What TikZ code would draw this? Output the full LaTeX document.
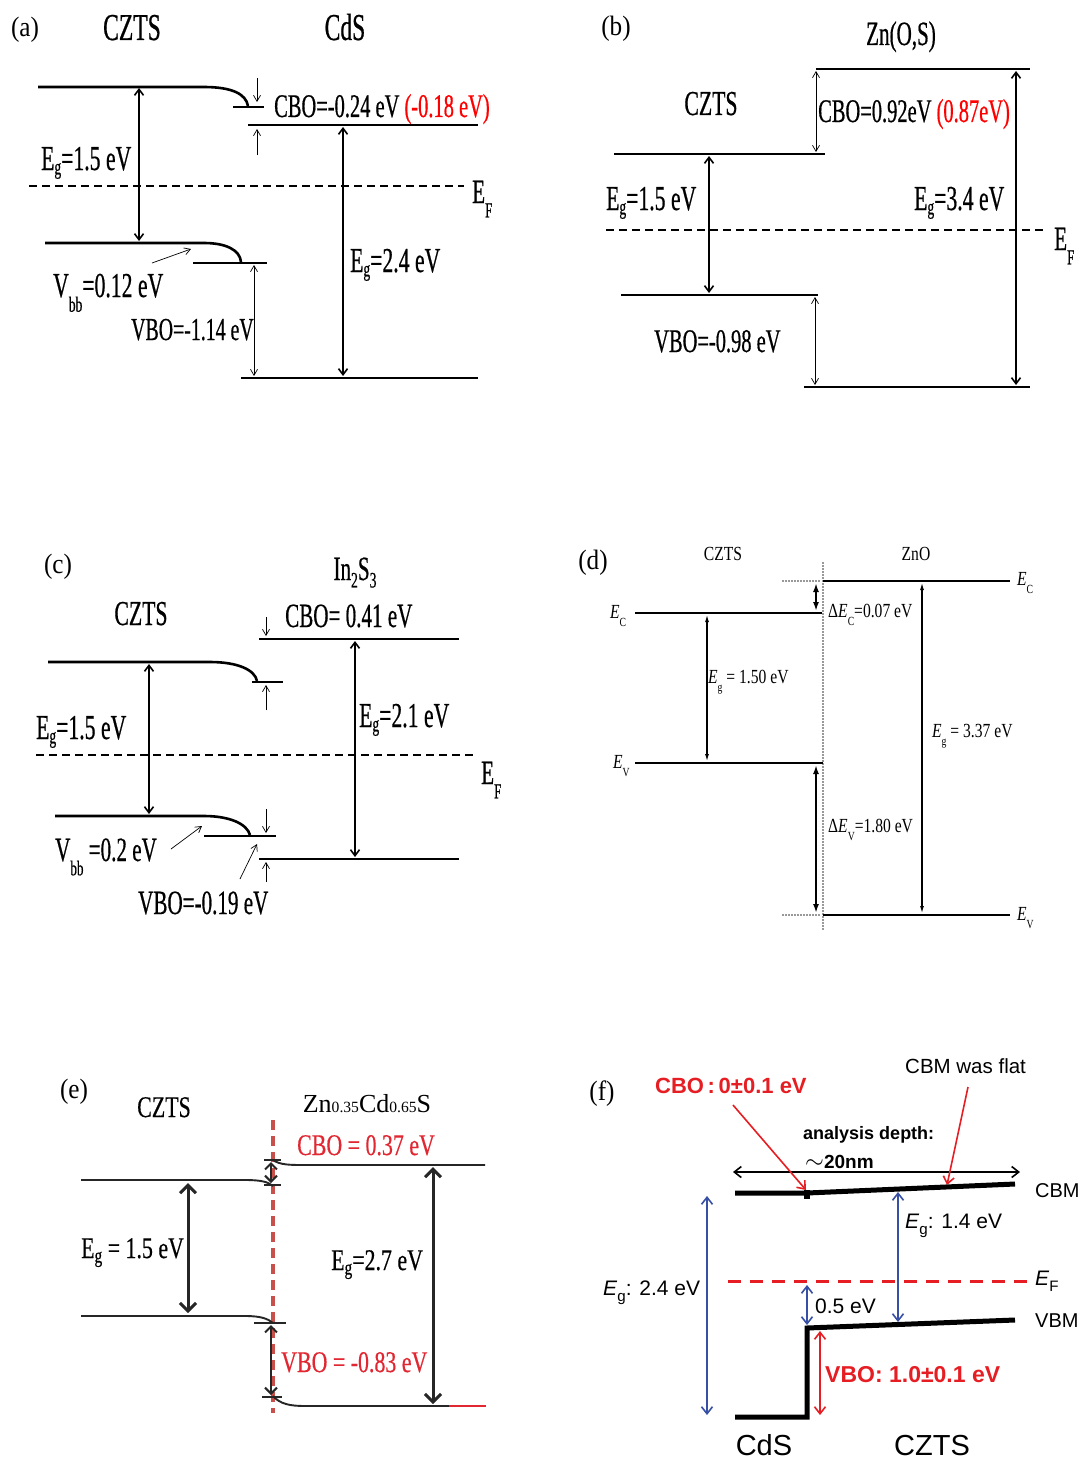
\documentclass[tikz,border=0pt]{standalone}
\usepackage{fontspec}
\usepackage{graphicx}
\usetikzlibrary{arrows.meta}
\setmainfont{Liberation Serif}
\setsansfont{Liberation Sans}
\newfontfamily\czA[FakeStretch=0.62,FakeBold=0.5]{Liberation Serif}
\newfontfamily\czD[FakeStretch=0.78]{Liberation Serif}
\newfontfamily\czE[FakeStretch=0.73,FakeBold=0.4]{Liberation Serif}
\newfontfamily\panfont[FakeStretch=0.9]{Liberation Serif}
\newcommand\fsz[1]{\fontsize{#1}{#1}\selectfont}
\newcommand\lowsub[1]{\raisebox{-0.42em}{\scalebox{0.62}{#1}}}
\newcommand\gsub[1]{\raisebox{-0.12em}{\scalebox{0.62}{#1}}}
\newcommand\midsub[1]{\raisebox{-0.22em}{\scalebox{0.65}{#1}}}
\newcommand\esub[1]{\raisebox{-0.15em}{\scalebox{0.7}{#1}}}
\newcommand\fsub[1]{\textit{E}\raisebox{-0.3em}{\scalebox{0.72}{#1}}}
\definecolor{eRed}{RGB}{225,40,50}
\definecolor{eDash}{RGB}{200,80,75}
\definecolor{fRed}{RGB}{230,30,35}
\definecolor{fBlue}{RGB}{55,80,165}
\tikzset{
  band/.style={line width=2.6pt},
  efl/.style={line width=2.4pt, dash pattern=on 8pt off 5pt},
  egA/.style={line width=1.6pt, {Straight Barb[length=6pt,width=9pt]}-{Straight Barb[length=6pt,width=9pt]}},
  thinA/.style={line width=0.7pt, {Straight Barb[length=6pt,width=7pt]}-{Straight Barb[length=6pt,width=7pt]}},
  oneA/.style={line width=0.7pt, -{Straight Barb[length=6pt,width=7pt]}},
  bandD/.style={line width=2pt},
  egD/.style={line width=1.1pt, {Latex[length=7pt,width=4pt]}-{Latex[length=7pt,width=4pt]}},
  dD/.style={line width=2pt, {Latex[length=9pt,width=6pt]}-{Latex[length=9pt,width=6pt]}},
  dotl/.style={line width=1.3pt, gray!80, dash pattern=on 1.5pt off 1.5pt},
  bandE/.style={line width=1.9pt, black!85},
  egE/.style={line width=3pt, black!85, {Straight Barb[length=8pt,width=16pt]}-{Straight Barb[length=8pt,width=16pt]}},
  smE/.style={line width=2pt, black!85, {Straight Barb[length=6pt,width=12pt]}-{Straight Barb[length=6pt,width=12pt]}},
  redd/.style={line width=3.4pt, eDash, dash pattern=on 10pt off 6pt},
  bandF/.style={line width=5pt, line join=miter},
  fA/.style={line width=1.6pt, {Straight Barb[length=7pt,width=11pt]}-{Straight Barb[length=7pt,width=11pt]}},
  fone/.style={line width=1.6pt, -{Straight Barb[length=7pt,width=11pt]}},
  fdash/.style={line width=3pt, fRed, dash pattern=on 13pt off 9pt},
  lab/.style={inner sep=0pt, anchor=base west},
  labc/.style={inner sep=0pt, anchor=base},
}
\begin{document}
\begin{tikzpicture}[x=1pt,y=-1pt]
\fill[white] (0,0) rectangle (1082,1461);
\useasboundingbox (0,0) rectangle (1082,1461);

% ---------------- (a) ----------------
\draw[band] (38,87) -- (204,87) .. controls (232,87) and (246,94) .. (248,106);
\draw[band] (233,107) -- (264,107);
\draw[oneA] (257,78) -- (257,102);
\draw[band] (248,125) -- (478,125);
\draw[oneA] (257,155) -- (257,129);
\draw[egA] (139,88) -- (139,241);
\draw[efl] (29,186) -- (464,186);
\draw[band] (45,243) -- (204,243) .. controls (226,243) and (240,250) .. (241,262);
\draw[band] (193,263) -- (267,263);
\draw[oneA] (152,263) -- (191,249);
\draw[thinA] (254,265) -- (254,376);
\draw[band] (241,378) -- (478,378);
\draw[egA] (343,127) -- (343,376);
\node[labc,font=\panfont\fsz{28}] (pa) at (25,37) {(a)};
\node[labc,font=\czA\fsz{38}] (a1) at (132,40) {CZTS};
\node[labc,font=\czA\fsz{38}] (a2) at (345,40) {CdS};
\node[lab,font=\czA\fsz{33}] (a3) at (274,117) {CBO=-0.24 eV \textcolor{red}{(-0.18 eV)}};
\node[lab,font=\czA\fsz{35}] (a4) at (41,170) {E\gsub{g}=1.5 eV};
\node[lab,font=\czA\fsz{34}] (a5) at (472,203) {E\lowsub{F}};
\node[lab,font=\czA\fsz{35}] (a6) at (53,297) {V\lowsub{bb}=0.12 eV};
\node[lab,font=\czA\fsz{32}] (a7) at (131,340) {VBO=-1.14 eV};
\node[lab,font=\czA\fsz{35}] (a8) at (350,272) {E\gsub{g}=2.4 eV};

% ---------------- (b) ----------------
\draw[band] (816,69) -- (1030,69);
\draw[thinA] (816,71) -- (816,152);
\draw[band] (614,154) -- (825,154);
\draw[egA] (709,156) -- (709,293);
\draw[egA] (1016,71) -- (1016,385);
\draw[efl] (606,230) -- (1047,230);
\draw[band] (621,295) -- (818,295);
\draw[thinA] (815,297) -- (815,385);
\draw[band] (804,387) -- (1030,387);
\node[labc,font=\panfont\fsz{28}] (pb) at (616,36) {(b)};
\node[labc,font=\czA\fsz{34}] (b1) at (901,45) {Zn(O,S)};
\node[labc,font=\czA\fsz{35}] (b2) at (711,115) {CZTS};
\node[lab,font=\czA\fsz{33}] (b3) at (818,122) {CBO=0.92eV \textcolor{red}{(0.87eV)}};
\node[lab,font=\czA\fsz{35}] (b4) at (606,210) {E\gsub{g}=1.5 eV};
\node[lab,font=\czA\fsz{35}] (b5) at (914,210) {E\gsub{g}=3.4 eV};
\node[lab,font=\czA\fsz{34}] (b6) at (1054,250) {E\lowsub{F}};
\node[lab,font=\czA\fsz{33}] (b7) at (654,352) {VBO=-0.98 eV};

% ---------------- (c) ----------------
\draw[oneA] (266,617) -- (266,636);
\draw[band] (259,639) -- (459,639);
\draw[band] (48,662) -- (210,662) .. controls (238,662) and (255,670) .. (257,681);
\draw[band] (252,682) -- (283,682);
\draw[oneA] (266,710) -- (266,685);
\draw[egA] (149,664) -- (149,814);
\draw[egA] (355,641) -- (355,857);
\draw[efl] (36,755) -- (474,755);
\draw[band] (55,816) -- (204,816) .. controls (230,816) and (247,824) .. (250,835);
\draw[band] (204,836) -- (276,836);
\draw[oneA] (266,809) -- (266,833);
\draw[band] (259,859) -- (459,859);
\draw[oneA] (266,882) -- (266,862);
\draw[oneA] (171,849) -- (202,826);
\draw[oneA] (240,879) -- (257,844);
\node[labc,font=\panfont\fsz{28}] (pc) at (58,573) {(c)};
\node[labc,font=\czA\fsz{34}] (c1) at (355,580) {In\midsub{2}S\midsub{3}};
\node[labc,font=\czA\fsz{35}] (c2) at (141,625) {CZTS};
\node[lab,font=\czA\fsz{34}] (c3) at (285,627) {CBO= 0.41 eV};
\node[lab,font=\czA\fsz{35}] (c4) at (36,739) {E\gsub{g}=1.5 eV};
\node[lab,font=\czA\fsz{35}] (c5) at (359,727) {E\gsub{g}=2.1 eV};
\node[lab,font=\czA\fsz{34}] (c6) at (481,784) {E\lowsub{F}};
\node[lab,font=\czA\fsz{34}] (c7) at (55,861) {V\lowsub{bb} =0.2 eV};
\node[lab,font=\czA\fsz{34}] (c8) at (138,914) {VBO=-0.19 eV};

% ---------------- (d) ----------------
\draw[dotl] (823,562) -- (823,930);
\draw[bandD] (823,581) -- (1010,581);
\draw[dotl] (782,581) -- (821,581);
\draw[bandD] (635,613) -- (822,613);
\draw[dD] (816,583) -- (816,611);
\draw[egD] (707,615) -- (707,761);
\draw[bandD] (635,763) -- (823,763);
\draw[dD] (816,765) -- (816,913);
\draw[bandD] (823,915) -- (1010,915);
\draw[dotl] (782,915) -- (821,915);
\draw[egD] (922,583) -- (922,913);
\node[labc,font=\panfont\fsz{28}] (pd) at (593,569) {(d)};
\node[labc,font=\czD\fsz{20}] (d1) at (723,560) {CZTS};
\node[labc,font=\czD\fsz{20}] (d2) at (916,560) {ZnO};
\node[lab,font=\czD\fsz{20}] (d3) at (610,618) {\textit{E}\lowsub{C}};
\node[lab,font=\czD\fsz{20}] (d4) at (828,617) {Δ\textit{E}\lowsub{C}=0.07 eV};
\node[lab,font=\czD\fsz{20}] (d5) at (1017,585) {\textit{E}\lowsub{C}};
\node[lab,font=\czD\fsz{20}] (d6) at (708,683) {\textit{E}\lowsub{g} = 1.50 eV};
\node[lab,font=\czD\fsz{20}] (d7) at (932,737) {\textit{E}\lowsub{g} = 3.37 eV};
\node[lab,font=\czD\fsz{20}] (d8) at (613,768) {\textit{E}\lowsub{V}};
\node[lab,font=\czD\fsz{20}] (d9) at (828,832) {Δ\textit{E}\lowsub{V}=1.80 eV};
\node[lab,font=\czD\fsz{20}] (d10) at (1017,920) {\textit{E}\lowsub{V}};

% ---------------- (e) ----------------
\draw[redd] (273,1120) -- (273,1413);
\draw[bandE] (81,1180) -- (245,1180) .. controls (262,1180) and (268,1182) .. (273,1186);
\draw[bandE] (273,1160) .. controls (280,1165) and (290,1165) .. (305,1165) -- (485,1165);
\draw[bandE] (264,1160) -- (281,1160);
\draw[bandE] (264,1185) -- (281,1185);
\draw[smE] (271,1162) -- (271,1183);
\draw[egE] (188,1183) -- (188,1313);
\draw[bandE] (81,1316) -- (245,1316) .. controls (262,1316) and (268,1319) .. (273,1323);
\draw[bandE] (254,1323) -- (286,1323);
\draw[bandE] (262,1397) -- (282,1397);
\draw[smE] (271,1325) -- (271,1395);
\draw[bandE] (273,1396) .. controls (280,1404) and (290,1406) .. (305,1406) -- (485,1406);
\draw[line width=2pt, eRed] (449,1406) -- (486,1406);
\draw[egE] (433,1167) -- (433,1404);
\node[labc,font=\panfont\fsz{28}] (pe) at (74,1098) {(e)};
\node[labc,font=\czE\fsz{30}] (e1) at (164,1117) {CZTS};
\node[labc,font=\rmfamily\fsz{26}] (e2) at (367,1112) {Zn\scalebox{0.6}{0.35}Cd\scalebox{0.6}{0.65}S};
\node[lab,font=\czE\fsz{30},text=eRed] (e3) at (297,1155) {CBO = 0.37 eV};
\node[lab,font=\czE\fsz{30}] (e4) at (81,1258) {E\esub{g} = 1.5 eV};
\node[lab,font=\czE\fsz{30}] (e5) at (331,1270) {E\esub{g}=2.7 eV};
\node[lab,font=\czE\fsz{30},text=eRed] (e6) at (281,1372) {VBO = -0.83 eV};

% ---------------- (f) ----------------
\draw[fA] (733,1172) -- (1020,1172);
\draw[bandF] (735,1193) -- (807,1193) -- (1015,1184);
\fill (804,1190) rectangle (810,1199);
\draw[bandF] (735,1417) -- (807,1417) -- (807,1328) -- (1015,1320);
\draw[fA, fBlue] (707,1196) -- (707,1415);
\draw[fA, fBlue] (898,1192) -- (898,1322);
\draw[fA, fBlue] (807,1285) -- (807,1325);
\draw[fA, fRed] (820,1331) -- (820,1415);
\draw[fdash] (728,1281) -- (1030,1281);
\node[labc,font=\panfont\fsz{28}] (pf) at (602,1100) {(f)};
\node[lab,font=\sffamily\bfseries\fsz{22},text=fRed] (f1) at (655,1093) {CBO\,:\,0±0.1 eV};
\node[lab,font=\sffamily\fsz{20.5}] (f2) at (905,1073) {CBM was flat};
\node[lab,font=\sffamily\bfseries\fsz{18}] (f3) at (803,1139) {analysis depth:};
\node[lab,font=\sffamily\bfseries\fsz{19}] (f4) at (805,1168) {\scalebox{1.4}{$\sim$}20nm};
\node[lab,font=\sffamily\fsz{20}] (f5) at (1035,1197) {CBM};
\node[lab,font=\sffamily\fsz{21}] (f6) at (905,1228) {\fsub{g}: 1.4 eV};
\node[lab,font=\sffamily\fsz{21}] (f7) at (603,1295) {\fsub{g}: 2.4 eV};
\node[lab,font=\sffamily\fsz{21}] (f8) at (1035,1285) {\fsub{F}};
\node[lab,font=\sffamily\fsz{21}] (f9) at (815,1313) {0.5 eV};
\node[lab,font=\sffamily\fsz{20}] (f10) at (1035,1327) {VBM};
\node[lab,font=\sffamily\bfseries\fsz{23},text=fRed] (f11) at (825,1382) {VBO: 1.0±0.1 eV};
\node[labc,font=\sffamily\fsz{29}] (f12) at (764,1455) {CdS};
\node[labc,font=\sffamily\fsz{29}] (f13) at (932,1455) {CZTS};
\coordinate (cboTip) at (806,1190);
\coordinate (flatTip) at (947,1185);
\draw[fone, fRed] (733,1105) -- (cboTip);
\draw[fone, fRed] (968,1087) -- (flatTip);
\end{tikzpicture}
\end{document}
